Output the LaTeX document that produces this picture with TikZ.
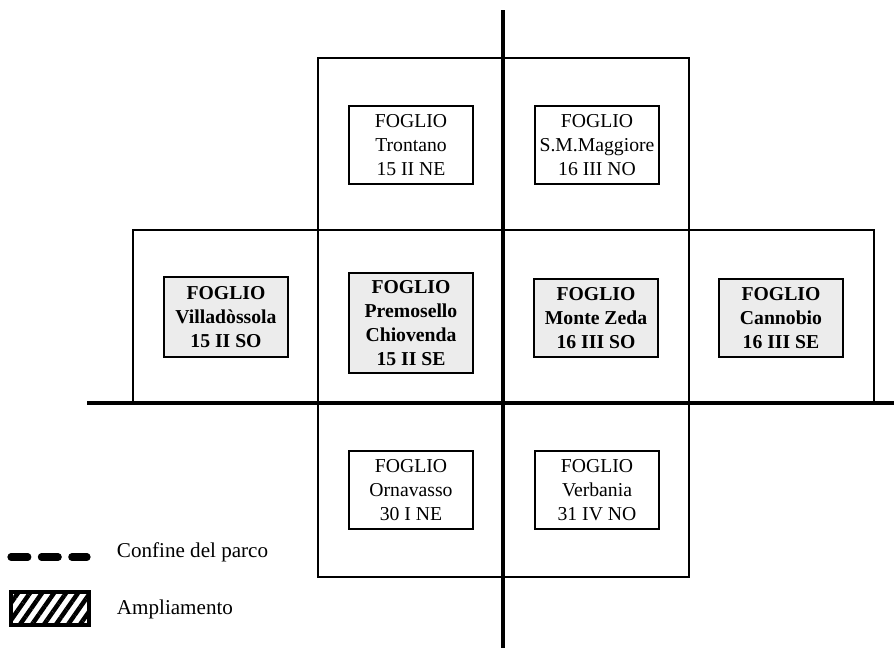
\documentclass[tikz,border=0pt]{standalone}
\usepackage{fontspec}
\setmainfont{Liberation Serif}
\usetikzlibrary{patterns.meta}

\begin{document}
\begin{tikzpicture}[
    x=0.025cm, y=-0.025cm,
    foglio/.style={rectangle, draw, line width=1.1pt, minimum width=3.1cm, minimum height=1.95cm, align=center, font=\fontsize{14}{17}\selectfont, inner sep=1pt},
    nuovo/.style={foglio, fill=gray!15, font=\fontsize{14}{17}\selectfont\bfseries},
    cella/.style={line width=0.9pt},
    asse/.style={line width=2.2pt},
    legenda/.style={anchor=west, font=\fontsize{15}{18}\selectfont}
]
    \useasboundingbox (0,0) rectangle (894,653);

    % Cells
    \draw[cella] (318,58) rectangle (689,230);
    \draw[cella] (133,230) rectangle (874,403);
    \draw[cella] (318,403) rectangle (689,577);
    \draw[cella] (318,230) -- (318,403);
    \draw[cella] (689,230) -- (689,403);

    % Axes
    \draw[asse] (503,10) -- (503,648);
    \draw[asse] (87,403) -- (894,403);

    % Sheets
    \node[foglio] (trontano) at (411,145) {FOGLIO\\Trontano\\15 II NE};
    \node[foglio] (maggiore) at (597,145) {FOGLIO\\S.M.Maggiore\\16 III NO};

    \node[nuovo, minimum height=2cm] (villadossola) at (226,317) {FOGLIO\\Villadòssola\\15 II SO};
    \node[nuovo, minimum height=2.5cm] (premosello) at (411,323) {FOGLIO\\Premosello\\Chiovenda\\15 II SE};
    \node[nuovo] (zeda) at (596,318) {FOGLIO\\Monte Zeda\\16 III SO};
    \node[nuovo] (cannobio) at (781,318) {FOGLIO\\Cannobio\\16 III SE};

    \node[foglio] (ornavasso) at (411,490) {FOGLIO\\Ornavasso\\30 I NE};
    \node[foglio] (verbania) at (597,490) {FOGLIO\\Verbania\\31 IV NO};

    % Legend
    \coordinate (confine a) at (11,557);
    \coordinate (confine b) at (87,557);
    \draw[line width=0.18cm, line cap=round, dash pattern=on 0.42cm off 0.34cm] (confine a) -- (confine b);
    \node[legenda] (confine) at (112,552) {Confine del parco};

    \draw[line width=2.6pt, pattern={Lines[angle=55, distance=7pt, line width=3.2pt]}] (11,592) rectangle (89,625);
    \node[legenda] (ampliamento) at (112,609) {Ampliamento};

\end{tikzpicture}
\end{document}
